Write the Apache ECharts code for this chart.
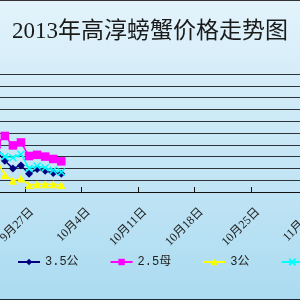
<!DOCTYPE html>
<html lang="zh">

<head>
    <meta charset="UTF-8">
    <title>2013年高淳螃蟹价格走势图</title>
    <script src="https://cdn.jsdelivr.net/npm/echarts@6/dist/echarts.min.js"></script>
    <style>
        html, body {
            margin: 0;
            padding: 0;
        }

        .box {
            width: 300px;
            height: 300px;
        }
    </style>
</head>

<body>
    <div class="box"></div>

    <script>
        // 日期(月-日)
        var dates = ['09-23', '09-24', '09-25', '09-26', '09-27', '09-28', '09-29', '09-30', '10-01'];
        // 各规格价格
        var gong35 = [68, 53, 40, 45, 31, 39, 36, 32, 31];
        var mu25 = [81, 95, 79, 84, 61, 63, 60, 56, 52];
        var gong3 = [52, 29, 19, 23, 12, 13, 13, 13, 12];
        var mu2 = [72, 60, 58, 64, 40, 44, 41, 37, 34];
        var names = ['3.5公', '2.5母', '3公', '2母'];

        // 以9月27日为第0天
        function dayOf(s) {
            var p = s.split('-');
            return (Date.UTC(2013, p[0] - 1, +p[1]) - Date.UTC(2013, 8, 27)) / 86400000;
        }

        function pairs(vals) {
            return dates.map(function(d, i) {
                return [dayOf(d) + 0.5, vals[i]];
            });
        }

        var font = "'Liberation Serif', 'Noto Sans CJK SC'";

        var myChart = echarts.init(document.querySelector('div'));

        option = {
            backgroundColor: new echarts.graphic.LinearGradient(0, 0, 0, 1, [
                { offset: 0, color: '#e3f3fb' },
                { offset: 1, color: '#abdbf1' }
            ]),
            animation: false,
            title: {
                text: '2013年高淳螃蟹价格走势图',
                left: 'center',
                top: 15,
                textStyle: {
                    fontFamily: font,
                    fontSize: 23,
                    fontWeight: 'normal',
                    color: '#1a1a1a'
                }
            },
            legend: {
                left: 12,
                top: 251,
                width: 600,
                itemWidth: 22,
                itemHeight: 8,
                itemGap: 31,
                textStyle: {
                    fontFamily: "'Liberation Mono', 'Noto Sans CJK SC'",
                    fontSize: 12,
                    color: '#222'
                }
            },
            // 图表左右两侧被裁掉了
            grid: {
                left: -88,
                right: -64,
                top: 74,
                bottom: 108,
                outerBoundsMode: 'none',
                containLabel: false
            },
            xAxis: {
                type: 'value',
                min: -14,
                max: 42,
                interval: 7,
                axisLine: { lineStyle: { color: '#111', width: 1 } },
                axisTick: { inside: true, length: 5, lineStyle: { color: '#111' } },
                splitLine: { show: false },
                axisLabel: {
                    rotate: 45,
                    margin: 11,
                    verticalAlign: 'top',
                    lineHeight: 20,
                    hideOverlap: false,
                    fontFamily: font,
                    fontSize: 12,
                    color: '#222',
                    formatter: function(v) {
                        var d = new Date(Date.UTC(2013, 8, 27) + v * 86400000);
                        return (d.getUTCMonth() + 1) + '月' + d.getUTCDate() + '日';
                    }
                }
            },
            yAxis: {
                type: 'value',
                min: 0,
                max: 200,
                interval: 20,
                axisLine: { show: false },
                axisTick: { show: false },
                axisLabel: { show: false },
                splitLine: { lineStyle: { color: '#2e3338', width: 1 } }
            },
            series: [{
                name: names[0],
                type: 'line',
                data: pairs(gong35),
                symbol: 'diamond',
                symbolSize: 8,
                color: '#000080',
                lineStyle: { width: 1.5 }
            }, {
                name: names[1],
                type: 'line',
                data: pairs(mu25),
                symbol: 'rect',
                symbolSize: 8.5,
                color: '#ff00ff',
                lineStyle: { width: 1.5 }
            }, {
                name: names[2],
                type: 'line',
                data: pairs(gong3),
                symbol: 'triangle',
                symbolSize: 8,
                color: '#ffff00',
                lineStyle: { width: 1.5 }
            }, {
                name: names[3],
                type: 'line',
                data: pairs(mu2),
                symbol: 'path://M0,0L10,10M10,0L0,10',
                symbolSize: 7,
                color: '#00ffff',
                itemStyle: { borderColor: '#00ffff', borderWidth: 1.5 },
                lineStyle: { width: 1.5 }
            }],
            graphic: [{
                type: 'line',
                shape: { x1: 0, y1: 0.5, x2: 300, y2: 0.5 },
                style: { stroke: '#333', lineWidth: 1 }
            }, {
                type: 'line',
                shape: { x1: 0, y1: 299.5, x2: 300, y2: 299.5 },
                style: { stroke: '#1a2a30', lineWidth: 1 }
            }]
        };

        myChart.setOption(option);
    </script>
</body>

</html>
